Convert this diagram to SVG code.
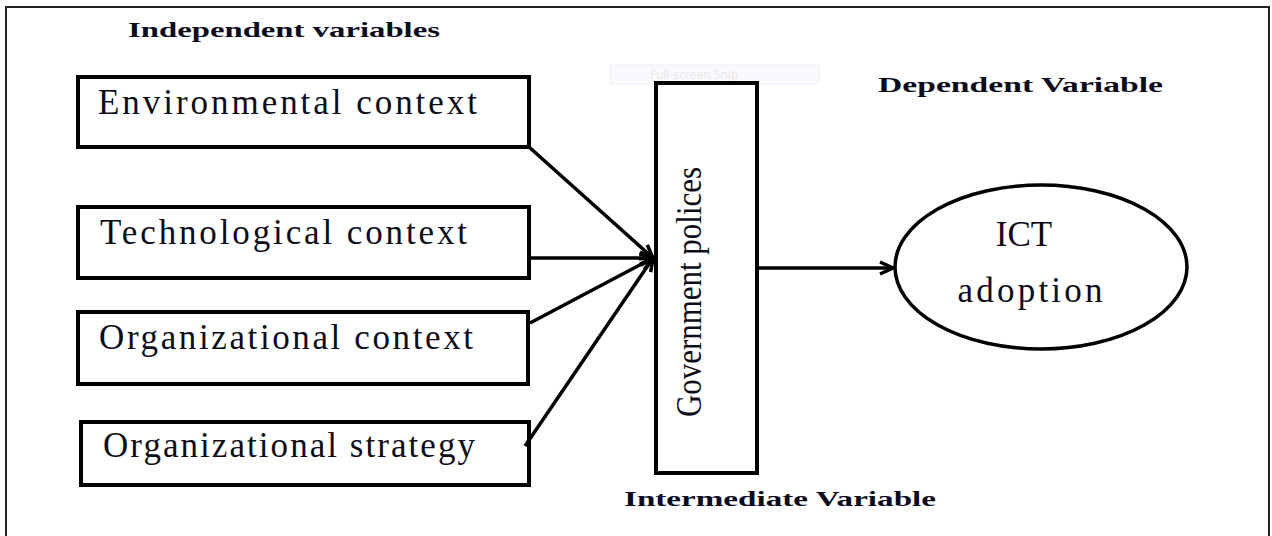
<svg xmlns="http://www.w3.org/2000/svg" width="1272" height="536" viewBox="0 0 1272 536">
  <style>
    .box { fill: #ffffff; stroke: #000000; stroke-width: 4; }
    .label { font-family: "Liberation Serif", "DejaVu Serif", serif; font-size: 35px; fill: #0d0d1a; }
    .heading { font-family: "Liberation Serif", "DejaVu Serif", serif; font-size: 22px; font-weight: bold; fill: #0b0b1e; }
    .conn { fill: none; stroke: #000000; stroke-width: 3.5; marker-end: url(#arrow); }
  </style>
  <defs>
    <marker id="arrow" markerUnits="userSpaceOnUse" viewBox="0 0 16 16" refX="15" refY="8" markerWidth="16" markerHeight="16" orient="auto">
      <path d="M2,2 L15,8 L2,14" fill="none" stroke="#000000" stroke-width="3.5" stroke-linejoin="miter"/>
    </marker>
  </defs>

  <rect width="1272" height="536" fill="#ffffff"/>

  <!-- outer frame, open at the bottom -->
  <path d="M6,536 L6,7 L1269,7 L1269,536" fill="none" stroke="#222222" stroke-width="2"/>

  <!-- faint screen-capture toolbar -->
  <g id="snip-bar">
    <rect x="610" y="65" width="209" height="19" fill="#f9fafd" stroke="#eef0f6" stroke-width="1"/>
    <text x="650" y="79" font-family="'Open Sans', 'DejaVu Sans', sans-serif" font-size="12" fill="#efe4e8">Full-screen Snip</text>
  </g>

  <!-- section headings -->
  <text class="heading" x="128" y="37" textLength="312" lengthAdjust="spacingAndGlyphs">Independent variables</text>
  <text class="heading" x="878" y="92" textLength="285" lengthAdjust="spacingAndGlyphs">Dependent Variable</text>
  <text class="heading" x="624" y="506" textLength="312" lengthAdjust="spacingAndGlyphs">Intermediate Variable</text>

  <g id="environmental">
    <rect class="box" x="78" y="77" width="451" height="70"/>
    <text class="label" x="98" y="114" textLength="379" lengthAdjust="spacing">Environmental context</text>
  </g>

  <g id="technological">
    <rect class="box" x="78" y="207" width="451" height="71"/>
    <text class="label" x="100" y="244" textLength="367" lengthAdjust="spacing">Technological context</text>
  </g>

  <g id="organizational-context">
    <rect class="box" x="78" y="312" width="450" height="72"/>
    <text class="label" x="99" y="349" textLength="374" lengthAdjust="spacing">Organizational context</text>
  </g>

  <g id="organizational-strategy">
    <rect class="box" x="81" y="422" width="448" height="63"/>
    <text class="label" x="103" y="457" textLength="372" lengthAdjust="spacing">Organizational strategy</text>
  </g>

  <g id="government-policies">
    <rect class="box" x="656" y="83" width="101" height="390"/>
    <text class="label" transform="translate(701,417) rotate(-90)" x="0" y="0" textLength="250" lengthAdjust="spacingAndGlyphs">Government polices</text>
  </g>

  <g id="ict-adoption">
    <ellipse cx="1041" cy="267" rx="146" ry="82" fill="#ffffff" stroke="#000000" stroke-width="3.5"/>
    <text class="label" x="1024" y="246" text-anchor="middle">ICT</text>
    <text class="label" x="1030" y="302" text-anchor="middle" textLength="145" lengthAdjust="spacing">adoption</text>
  </g>

  <g id="connectors">
    <line class="conn" x1="529" y1="147" x2="653" y2="258"/>
    <line class="conn" x1="531" y1="258" x2="653" y2="258"/>
    <line class="conn" x1="530" y1="323" x2="653" y2="258"/>
    <line class="conn" x1="525" y1="446" x2="653" y2="258"/>
    <line class="conn" x1="759" y1="268" x2="893" y2="268"/>
  </g>
</svg>
